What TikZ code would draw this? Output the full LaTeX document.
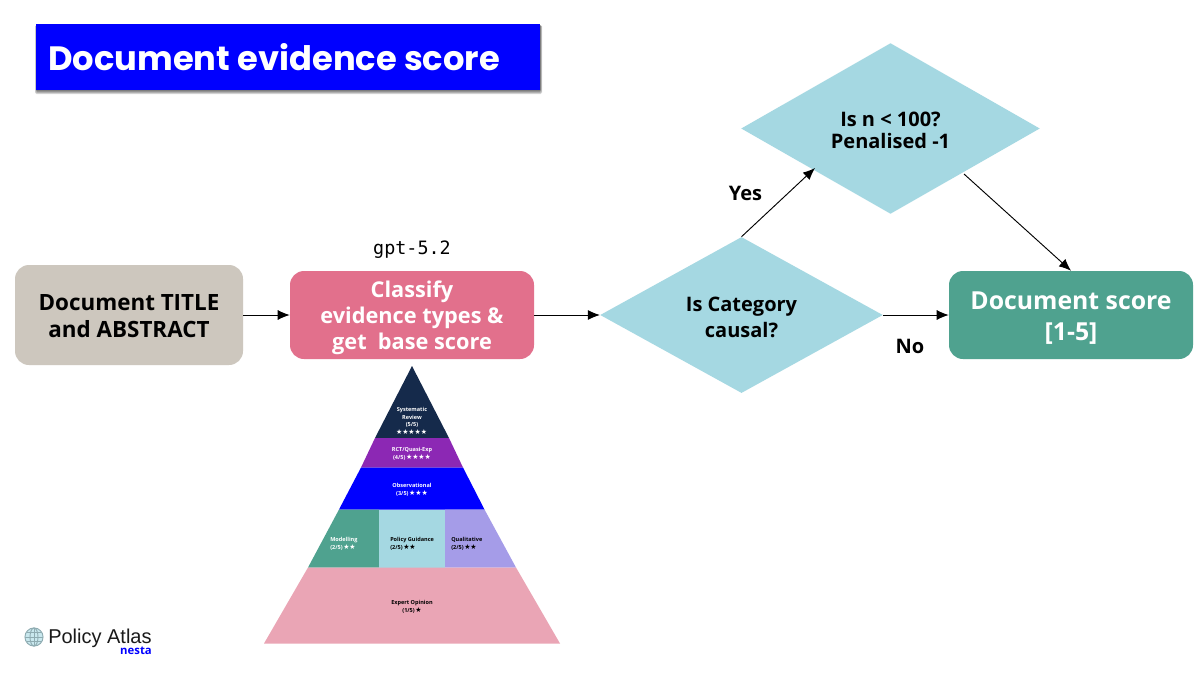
\documentclass[tikz,border=0pt]{standalone}
\usepackage{fontspec}
\setmainfont{Liberation Sans}
\newfontfamily\monof{DejaVu Sans Mono}
\newfontfamily\starf{DejaVu Sans}
\newfontfamily\pyrf{Open Sans}
\newfontfamily\labf{Open Sans}
\newfontfamily\titlef{Poppins}
\usetikzlibrary{shapes.geometric,arrows.meta,shadows,calc}
\definecolor{cblue}{HTML}{0000FF}
\definecolor{cbeige}{HTML}{CDC7BE}
\definecolor{cpink}{HTML}{E2708C}
\definecolor{cdia}{HTML}{A5D8E2}
\definecolor{cgreen}{HTML}{4FA28F}
\definecolor{cnavy}{HTML}{152A4B}
\definecolor{cpurple}{HTML}{8C28B4}
\definecolor{clav}{HTML}{A59CE8}
\definecolor{crose}{HTML}{EAA5B5}
\definecolor{ctext}{HTML}{1A1A1A}
\newcommand{\px}[2]{\fontsize{#1}{#2}\selectfont}
\tikzset{
  x=0.75pt,y=-0.75pt,
  box/.style={draw=none,fill=none,align=center,inner sep=0pt,font=\labf\bfseries},
  boxbg/.style={draw=none,rounded corners=10.5pt},
  dia/.style={diamond,fill=cdia,draw=none,inner sep=0pt},
  diatext/.style={align=center,inner sep=0pt,font=\labf\bfseries\px{15}{19.5}},
  conn/.style={-{Latex[length=9pt,width=7.5pt]},line width=0.7pt,black},
  lab/.style={font=\labf\bfseries\px{15}{20},text=black},
  pyr/.style={font=\pyrf\bfseries\px{4.15}{5.8},align=center,inner sep=0pt},
  pyrpart/.style={draw=none},
  shadowlayer/.style={fill=black,opacity=.16,rounded corners=1pt},
}
\newcommand{\st}[1]{{\starf\px{5.2}{5.8}\hspace{-0.6pt}#1}}
\begin{document}
\begin{tikzpicture}
\useasboundingbox (0,0) rectangle (1200,675);
\fill[white] (0,0) rectangle (1200,675);
% title
\fill[shadowlayer] (35,25) rectangle (542,94);
\fill[shadowlayer] (35.5,25) rectangle (541.5,93);
\fill[shadowlayer] (36,25) rectangle (541,92);
\fill[shadowlayer] (36,25) rectangle (541,91);
\node[fill=cblue,minimum width=378pt,minimum height=49.5pt,inner sep=0pt,anchor=north west] (title) at (36,24) {};
\node[anchor=west,text=white,font=\titlef\bfseries\px{25.3}{30},inner sep=0pt] (titletext) at (48,57) {Document evidence score};
% boxes
\node[boxbg,fill=cbeige,minimum width=171pt,minimum height=75pt] (doc) at (129,315) {};
\node[box,text=black,font=\labf\bfseries\px{16.8}{20.2}] (doctext) at (129,316) {Document TITLE\\and ABSTRACT};
\node[boxbg,fill=cpink,minimum width=183pt,minimum height=66pt] (cls) at (412,315) {};
\node[box,text=white,font=\labf\bfseries\px{16.3}{19.5}] (clstext) at (412,317.5) {Classify\\evidence types \&\\get\ \ base score};
\node[font=\monof\px{13.8}{16},inner sep=0pt] (gpt) at (412,249.5) {gpt-5.2};
\node[dia,minimum width=212pt,minimum height=117pt,shape aspect=1.81] (d1) at (741.5,315) {};
\node[diatext] (d1text) at (741.5,317.5) {Is Category\\causal?};
\node[dia,minimum width=224pt,minimum height=128pt,shape aspect=1.75] (d2) at (890.5,128.5) {};
\node[diatext,font=\labf\bfseries\px{15}{16.8}] (d2text) at (890.5,130.5) {Is n < 100?\\Penalised -1};
\node[boxbg,fill=cgreen,minimum width=183pt,minimum height=66pt] (score) at (1071,315) {};
\node[box,text=white,font=\labf\bfseries\px{18.6}{22.8}] (scoretext) at (1071,318) {Document score\\{[}1-5{]}};
% connectors
\coordinate (d2in) at (815,168);
\coordinate (d2out) at (964,174);
\draw[conn] (doc.east) -- (cls.west);
\draw[conn] (cls.east) -- (d1.west);
\draw[conn] (d1.east) -- (score.west);
\draw[conn] (d1.north) -- (d2in);
\draw[conn] (d2out) -- (score.north);
\node[lab] (yes) at (745.5,193) {Yes};
\node[lab] (no) at (910,346) {No};
% pyramid
\fill[cnavy,pyrpart] (412,366) -- (449,438) -- (375,438) -- cycle;
\fill[cpurple,pyrpart] (375,438) -- (449,438) -- (463,467.5) -- (361,467.5) -- cycle;
\fill[cblue,pyrpart] (361,467.5) -- (463,467.5) -- (484.5,509.5) -- (339,509.5) -- cycle;
\fill[cgreen,pyrpart] (339,509.5) -- (379,509.5) -- (379,567.5) -- (308,567.5) -- cycle;
\fill[cdia,pyrpart] (379,509.5) -- (445,509.5) -- (445,567.5) -- (379,567.5) -- cycle;
\fill[clav,pyrpart] (445,509.5) -- (484.5,509.5) -- (516,567.5) -- (445,567.5) -- cycle;
\fill[crose,pyrpart] (308,567.5) -- (516,567.5) -- (560,643.5) -- (264,643.5) -- cycle;
\node[pyr,text=white] (p1) at (412,421) {Systematic\\Review\\(5/5)\\\st{★★★★★}};
\node[pyr,text=white] (p2) at (412,453.5) {RCT/Quasi-Exp\\(4/5) \st{★★★★}};
\node[pyr,text=white] (p3) at (412,489.5) {Observational\\(3/5) \st{★★★}};
\node[pyr,text=white,align=left,anchor=west] (p4) at (330,543.5) {Modelling\\(2/5) \st{★★}};
\node[pyr,text=black,align=left,anchor=west] (p5) at (390,543.5) {Policy Guidance\\(2/5) \st{★★}};
\node[pyr,text=black,align=left,anchor=west] (p6) at (451,543.5) {Qualitative\\(2/5) \st{★★}};
\node[pyr,text=black] (p7) at (412,606.5) {Expert Opinion\\(1/5) \st{★}};
% logo
\begin{scope}[draw=cdia!70!black!80,line width=0.7pt,fill=cdia!60]
\filldraw (34,637) circle[radius=6.8pt];
\draw (34,637) ellipse[x radius=3pt,y radius=6.8pt];
\draw (25,637) -- (43,637);
\draw (26.5,632.5) -- (41.5,632.5);
\draw (26.5,641.5) -- (41.5,641.5);
\draw (34,628) -- (34,646);
\end{scope}
\node[anchor=west,inner sep=0pt,font=\px{15}{16},text=ctext] (logo) at (48,638) {Policy Atlas};
\node[inner sep=0pt,font=\labf\bfseries\px{8.5}{10},text=cblue] (nesta) at (136,651) {nesta};
\end{tikzpicture}
\end{document}
